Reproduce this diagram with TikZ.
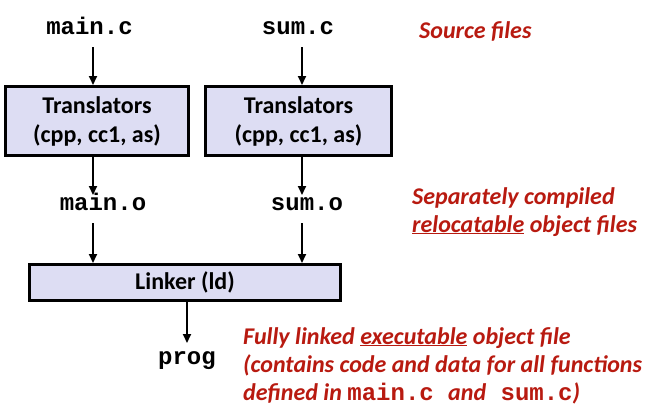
\documentclass[tikz,border=0pt]{standalone}
\usepackage{fontspec}
\setmainfont{Carlito}
\newfontfamily\cmono{Liberation Mono}
\usetikzlibrary{arrows.meta}
\definecolor{boxfill}{RGB}{221,221,243}
\definecolor{notered}{RGB}{184,26,16}
\tikzset{
  file/.style={font=\cmono\bfseries\fontsize{24}{28}\selectfont, inner sep=0pt, anchor=base},
  tool/.style={draw=black, line width=3pt, fill=boxfill, font=\bfseries\fontsize{24}{29}\selectfont, align=center, inner sep=0pt},
  note/.style={text=notered, font=\bfseries\itshape\fontsize{24}{28}\selectfont, align=left, inner sep=0pt, anchor=base west},
  arr/.style={line width=2pt, -{Triangle[length=9pt,width=8pt]}},
}
\newcommand{\fname}[1]{{\cmono\upshape\fontsize{24}{28}\selectfont #1}}
\begin{document}
\begin{tikzpicture}[x=1pt,y=-1pt]
\useasboundingbox (0,0) rectangle (654,413);
\node[file] (mainc) at (89.5,34) {main.c};
\node[file] (sumc) at (298,34) {sum.c};
\node[tool, minimum width=183pt, minimum height=69pt] (t1) at (97,121) {Translators\\(cpp, cc1, as)};
\node[tool, minimum width=186pt, minimum height=69pt] (t2) at (298.5,121) {Translators\\(cpp, cc1, as)};
\node[file] (maino) at (103,210) {main.o};
\node[file] (sumo) at (307,210) {sum.o};
\node[tool, minimum width=311pt, minimum height=36pt] (ld) at (185,282.5) {Linker (ld)};
\node[file] (prog) at (187,364) {prog};

\draw[arr] ([xshift=3.5pt,yshift=-13pt]mainc.base) -- ([xshift=3.5pt]mainc.base |- t1.north);
\draw[arr] ([xshift=4pt,yshift=-13pt]sumc.base) -- ([xshift=4pt]sumc.base |- t2.north);
\draw[arr] ([xshift=-10pt]maino.base |- t1.south) -- ([xshift=-10pt,yshift=15pt]maino.base);
\draw[arr] ([xshift=-5pt]sumo.base |- t2.south) -- ([xshift=-5pt,yshift=15pt]sumo.base);
\draw[arr] ([xshift=-10pt,yshift=-13pt]maino.base) -- ([xshift=-10pt]maino.base |- ld.north);
\draw[arr] ([xshift=-5pt,yshift=-13pt]sumo.base) -- ([xshift=-5pt]sumo.base |- ld.north);
\draw[arr] (prog.base |- ld.south) -- ([yshift=21pt]prog.base);

\node[note] (src) at (419,38) {Source files};
\node[note] (sep) at (412,232) {Separately compiled\\\underline{relocatable} object files};
\node[note] (full) at (243,400) {Fully linked \underline{executable} object file\\(contains code and data for all functions\\defined in \fname{main.c\ }and\fname{\ sum.c})};
\end{tikzpicture}
\end{document}
